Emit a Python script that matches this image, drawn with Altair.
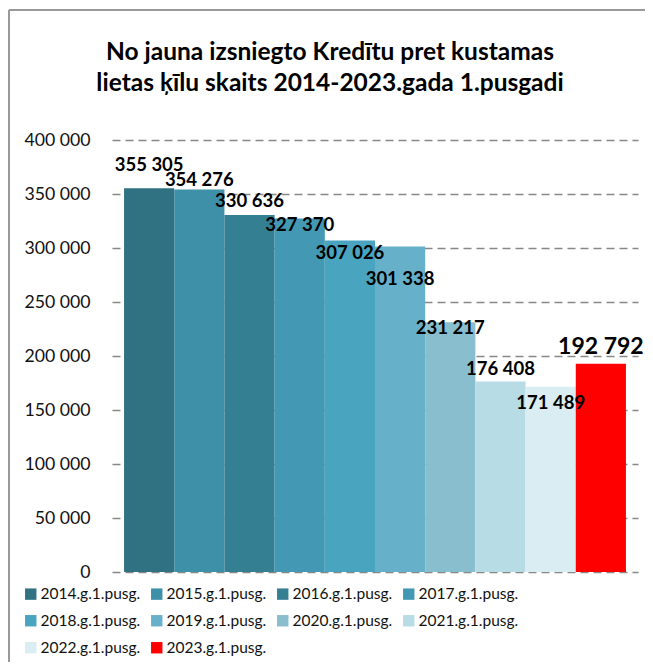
import altair as alt
import pandas as pd

categories = ["2014.g.1.pusg.", "2015.g.1.pusg.", "2016.g.1.pusg.", "2017.g.1.pusg.",
              "2018.g.1.pusg.", "2019.g.1.pusg.", "2020.g.1.pusg.", "2021.g.1.pusg.",
              "2022.g.1.pusg.", "2023.g.1.pusg."]
values = [355305, 354276, 330636, 327370, 307026, 301338, 231217, 176408, 171489, 192792]
colors = ["#317282", "#3E8FA8", "#357F93", "#4399B4", "#48A4BF",
          "#67B0C9", "#88BECE", "#B7DCE6", "#DAEDF3", "#FF0000"]
# manual label displacement in pixels (negative = above bar top), as in the original
label_shift_px = [-23, -9, -14, 7, 13, 32, 6, -12, 16, -17]
label_sizes = [18.5, 18.5, 18.5, 18.5, 18.5, 18.5, 18.5, 18.5, 18.5, 23]

Y_MAX = 400000
PLOT_H = 432
PLOT_W = 526

df = pd.DataFrame({
    "cat": categories,
    "value": values,
    "shift": label_shift_px,
    "fsize": label_sizes,
})
df["label"] = [f"{v:,}".replace(",", " ") for v in values]
df["label_y"] = df["value"] - df["shift"] * Y_MAX / PLOT_H

FONT = "Lato"

x_enc = alt.X("cat:N", sort=categories, axis=None,
              scale=alt.Scale(paddingInner=0, paddingOuter=0.24))

bars = alt.Chart(df).mark_bar(strokeWidth=0).encode(
    x=x_enc,
    y=alt.Y("value:Q",
            scale=alt.Scale(domain=[0, Y_MAX], nice=False),
            axis=alt.Axis(values=list(range(0, Y_MAX + 1, 50000)), grid=True,
                          gridDash=[8, 5], gridColor="#888888", gridWidth=1.5,
                          ticks=False, domain=False, title=None,
                          labelExpr="replace(format(datum.value, ','), regexp(',', 'g'), ' ')",
                          labelFontSize=17.7, labelFont=FONT, labelColor="#111111",
                          labelPadding=22)),
    color=alt.Color("cat:N", sort=categories,
                    scale=alt.Scale(domain=categories, range=colors),
                    legend=alt.Legend(orient="none", legendX=-89, legendY=446,
                                      columns=4, direction="horizontal", title=None,
                                      symbolType="square", symbolSize=130,
                                      symbolStrokeWidth=0, labelFontSize=15.5,
                                      labelFont=FONT, labelColor="#111111",
                                      columnPadding=8, rowPadding=10,
                                      symbolOffset=0, labelOffset=2, labelLimit=200)),
)

labels = alt.Chart(df).mark_text(fontWeight="bold", baseline="middle", align="center",
                                 font=FONT, color="#000000").encode(
    x=x_enc,
    y=alt.Y("label_y:Q"),
    text="label:N",
    size=alt.Size("fsize:Q", scale=None, legend=None),
)

frame_df = pd.DataFrame({"a": [0]})
frame_top = alt.Chart(frame_df).mark_rule(color="#999999", strokeWidth=2).encode(
    x=alt.value(-103), x2=alt.value(600), y=alt.value(-130))
frame_left = alt.Chart(frame_df).mark_rule(color="#999999", strokeWidth=2).encode(
    x=alt.value(-103), y=alt.value(-130), y2=alt.value(560))

chart = alt.layer(frame_top, frame_left, bars, labels).properties(
    width=PLOT_W, height=PLOT_H,
    title=alt.TitleParams(
        text=["No jauna izsniegto Kredītu pret kustamas",
              "lietas ķīlu skaits 2014-2023.gada 1.pusgadi"],
        font=FONT, fontSize=24.5, fontWeight="bold", color="#000000",
        anchor="middle", dx=-45, offset=-87, lineHeight=31),
    autosize=alt.AutoSizeParams(type="none"),
    padding={"left": 104, "top": 132, "right": 7, "bottom": 90},
).configure_view(stroke=None)

chart.save("out.html", embed_options={"renderer": "svg", "actions": False})
